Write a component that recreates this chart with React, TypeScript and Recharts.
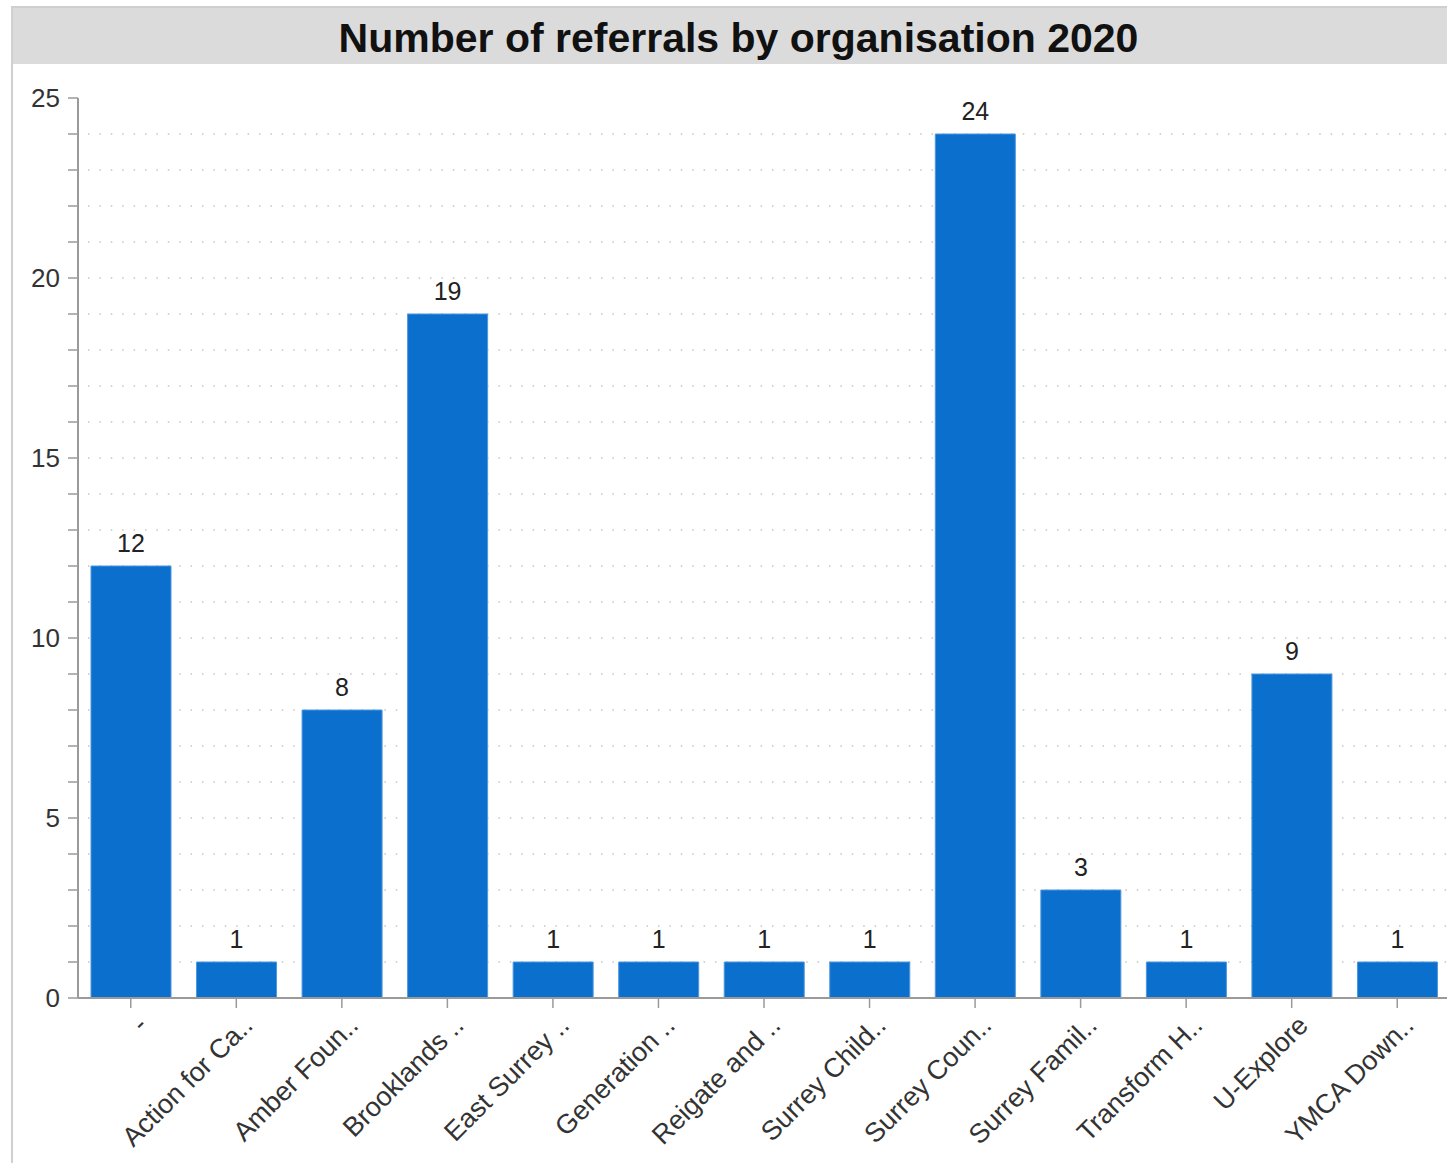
import { BarChart, Bar, XAxis, YAxis, CartesianGrid, LabelList } from "recharts";

// organisations (labels already truncated like the source chart)
const organisations = [
    "-",
    "Action for Ca..",
    "Amber Foun..",
    "Brooklands ..",
    "East Surrey ..",
    "Generation ..",
    "Reigate and ..",
    "Surrey Child..",
    "Surrey Coun..",
    "Surrey Famil..",
    "Transform H..",
    "U-Explore",
    "YMCA Down..",
];

const referrals = [12, 1, 8, 19, 1, 1, 1, 1, 24, 3, 1, 9, 1];

const yTicks = [0, 1, 2, 3, 4, 5, 6, 7, 8, 9, 10, 11, 12, 13, 14, 15, 16, 17, 18, 19, 20, 21, 22, 23, 24, 25];
const yLabelled = [0, 5, 10, 15, 20, 25];
const gridValues = [1, 2, 3, 4, 5, 6, 7, 8, 9, 10, 11, 12, 13, 14, 15, 16, 17, 18, 19, 20, 21, 22, 23, 24];

const FONT = "'Liberation Sans', Arial, Helvetica, sans-serif";
const AXIS = "#9a9a9a";

const data = organisations.map((name, i) => ({ name, count: referrals[i] }));

// only every 5th value gets a label, the minor ticks stay as marks
const YTick = ({ x, y, payload }: any) => {
    if (!yLabelled.includes(payload.value)) return null;
    return (
        <text x={x} y={y} dy={9} textAnchor="end" fontSize={26} fill="#333" fontFamily={FONT}>
            {payload.value}
        </text>
    );
};

const XTick = ({ x, y, payload }: any) => {
    const ax = x + 18;
    const ay = y + 17;
    return (
        <text x={ax} y={ay} textAnchor="end" fontSize={27} fill="#333" fontFamily={FONT}
            transform={`rotate(-45, ${ax}, ${ay})`}>
            {payload.value}
        </text>
    );
};

const App = () => {
    return (
        <div style={{ position: "absolute", left: 0, top: 0, width: 1447, height: 1163, overflow: "hidden", background: "#fff", fontFamily: FONT }}>
            {/* panel border */}
            <div style={{ position: "absolute", left: 11, top: 6, width: 2, height: 1157, background: "#d0d0d0" }} />
            {/* title bar */}
            <div style={{
                position: "absolute", left: 13, top: 6, width: 1451, height: 58,
                background: "#dbdbdb", borderTop: "2px solid #cfcfcf", boxSizing: "border-box",
                display: "flex", alignItems: "center", justifyContent: "center", paddingTop: 4,
                fontSize: 41, fontWeight: "bold", color: "#111",
            }}>
                Number of referrals by organisation 2020
            </div>

            <div style={{ position: "absolute", left: 0, top: 0 }}>
                <BarChart width={1450} height={1163} data={data} margin={{ top: 98, right: 0, bottom: 0, left: 0 }}
                    barCategoryGap={0} barSize={80}>
                    <CartesianGrid vertical={false} horizontalValues={gridValues} stroke="#c4c4c4"
                        strokeWidth={1.5} strokeDasharray="1.5 9.9" strokeDashoffset={1.4} />
                    <XAxis dataKey="name" interval={0} height={165} tick={<XTick />}
                        axisLine={{ stroke: AXIS, strokeWidth: 2 }} tickLine={{ stroke: AXIS, strokeWidth: 1.5 }}
                        tickSize={10} />
                    <YAxis domain={[0, 25]} ticks={yTicks} interval={0} width={78} tick={<YTick />}
                        axisLine={{ stroke: AXIS, strokeWidth: 2 }} tickLine={{ stroke: AXIS, strokeWidth: 1.5 }}
                        tickSize={10} tickMargin={8} />
                    <Bar dataKey="count" fill="#0b6fcd" stroke="#4f97dc" strokeWidth={1} isAnimationActive={false}>
                        <LabelList dataKey="count" position="top" offset={14} fontSize={25} fill="#222" fontFamily={FONT} />
                    </Bar>
                </BarChart>
            </div>
        </div>
    );
};

export default App;
